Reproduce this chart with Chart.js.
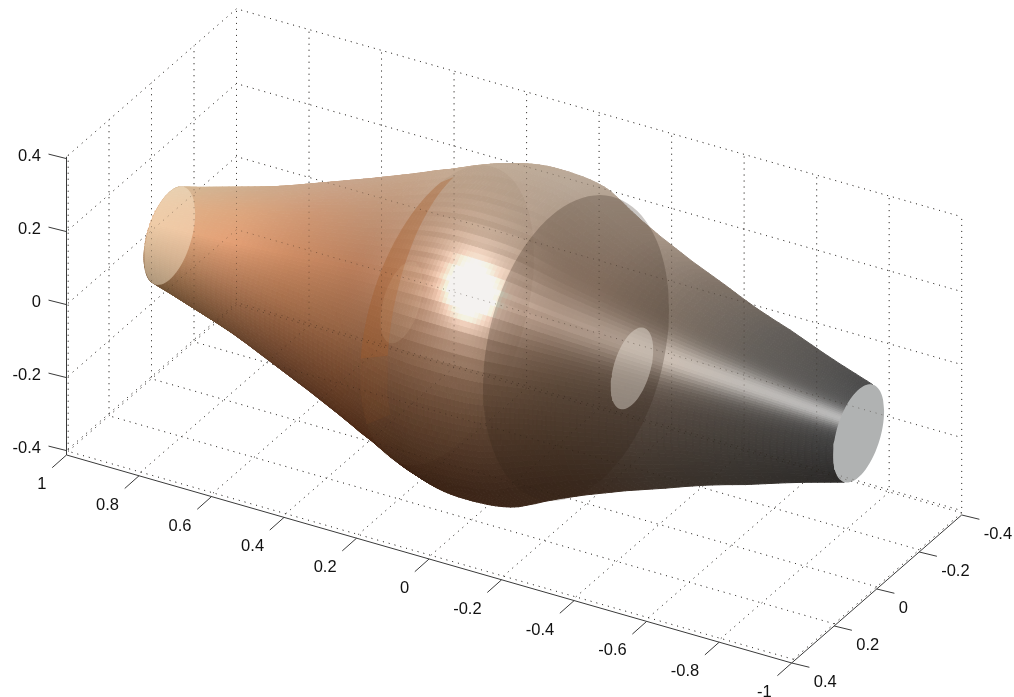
<!DOCTYPE html>
<html><head><meta charset="utf-8">
<style>html,body{margin:0;padding:0;background:#fff}canvas{display:block}</style>
<script src="https://cdn.jsdelivr.net/npm/chart.js@4"></script>
</head><body><canvas id="c" width="1014" height="697"></canvas>
<script>
// ---- values ----
const xTicks=[1,0.8,0.6,0.4,0.2,0,-0.2,-0.4,-0.6,-0.8,-1];
const yTicks=[-0.4,-0.2,0,0.2,0.4];
const zTicks=[-0.4,-0.2,0,0.2,0.4];
const xLabels=['1','0.8','0.6','0.4','0.2','0','-0.2','-0.4','-0.6','-0.8','-1'];
const yLabels=['-0.4','-0.2','0','0.2','0.4'];
const zLabels=['-0.4','-0.2','0','0.2','0.4'];
const stationX=[.95,.9,.85,.8,.75,.7,.65,.6,.55,.5,.45,.4,.35,.3,.28,.26,.24,.22,.2,.18,.16,.14,.12,.1,.08,.06,.04,.02,0,-.02,-.04,-.06,-.08,-.1,-.12,-.14,-.16,-.18,-.2,-.22,-.24,-.26,-.28,-.3,-.35,-.4,-.45,-.5,-.55,-.6,-.65,-.7,-.75,-.8,-.85,-.9,-.95];
const stationR=[.12,.132,.145,.158,.171,.185,.201,.218,.235,.252,.269,.287,.305,.324,.332,.339,.346,.354,.362,.37,.377,.384,.39,.395,.399,.402,.404,.405,.405,.405,.404,.403,.401,.398,.394,.388,.379,.37,.36,.351,.342,.334,.326,.318,.3,.282,.266,.25,.233,.217,.203,.19,.175,.16,.146,.133,.12];
const innerDiscX=[.31,-.325];
const innerDiscR=[.1,.1];
const capX=[.95,-.95];
const capR=[.12,.12];
// section outlines seen through the shell: [x0, xTilt, yRadius, zCentre, zRadius]
const sectionLeft=[.185,.0375,.345,0,.377];
const sectionLeftInner=[.152,.018,.307,0,.40];
const sectionRight=[-.1707,.1,.267,.012,.405];
// ---- surface tones along the body ----
const toneX=[.95,.7,.5,.3,.1,-.1,-.3,-.5,-.7,-.95];
const toneV=[.95,.55,.15,-.3,-.95];
const tones=[
 [[215,185,150],[205,170,140],[200,165,140],[195,165,140],[190,170,150],[185,168,152],[168,150,135],[128,115,104],[100,95,90],[75,75,75]],
 [[225,180,140],[220,165,125],[205,150,115],[190,145,115],[175,140,115],[165,140,120],[155,132,115],[124,110,98],[100,95,90],[85,85,85]],
 [[228,178,135],[228,160,118],[205,140,100],[185,125,90],[175,125,95],[168,130,106],[150,125,108],[124,110,98],[105,100,95],[90,90,90]],
 [[190,145,105],[180,125,90],[165,110,75],[150,100,68],[130,90,65],[122,90,68],[102,82,66],[88,75,66],[76,70,65],[65,65,65]],
 [[115,85,55],[105,70,45],[90,55,35],[80,45,25],[60,35,20],[60,38,25],[60,42,30],[60,50,42],[55,50,45],[45,43,42]]
];
const stripeX=[.1,-.2,-.4,-.95];
const stripeA=[0,55,78,95];
const facetShade=[5,-2,3,-5];
// ---- projection of the axes box ----
const zMin=-.412,zMax=.405,yBack=-.4,yFront=.4,xNear=-1,xFar=1,gridFront=.392,gridFloor=-.406;
function project(x,y,z){return {x:514.1-362.6*x-212.5*y,y:334.6-104*x+185*y-365*z};}
function ringPoint(x,r,phi){const c=Math.cos(phi),s=Math.sin(phi);
 return project(x,r*(c*.8295-s*.559),r*(c*.559+s*.8295));}
function fullRing(x,r,n=72){const p=[];for(let i=0;i<=n;i++)p.push(ringPoint(x,r,-Math.PI+2*Math.PI*i/n));return p;}
function sectionArc(s,a0,a1,n=48){const p=[];for(let i=0;i<=n;i++){const t=a0+(a1-a0)*i/n;
 p.push(project(s[0]+s[1]*Math.cos(t),s[2]*Math.cos(t),s[3]+s[4]*Math.sin(t)));}return p;}
function lerpTable(xs,ys,x){if(x>=xs[0])return ys[0];for(let i=1;i<xs.length;i++){if(x>=xs[i]){const t=(xs[i-1]-x)/(xs[i-1]-xs[i]);return ys[i-1]+(ys[i]-ys[i-1])*t;}}return ys[ys.length-1];}
function tone(x,v){const atV=k=>[0,1,2].map(c=>lerpTable(toneX,tones[k].map(t=>t[c]),x));
 let k=0;while(k<toneV.length-2&&v<toneV[k+1])k++;
 let t=(toneV[k]-v)/(toneV[k]-toneV[k+1]);t=Math.max(0,Math.min(1,t));
 const a=atV(k),b=atV(k+1);return a.map((q,i)=>q+(b[i]-q)*t);}
const BANDS=60;
const datasets=[];
function poly(points,fill,stroke,width){datasets.push({data:points,showLine:true,fill:fill?'shape':false,backgroundColor:fill||'transparent',borderColor:stroke||'transparent',borderWidth:width||0,pointRadius:0,tension:0,clip:false});}
function line(points,color,width,dash){datasets.push({data:points,showLine:true,fill:false,borderColor:color,borderWidth:width,borderDash:dash||[],pointRadius:0,tension:0,clip:false});}
function gridLines(color){const dash=[1,5];
 zTicks.forEach(z=>{const zz=z===.4?zMax:z;line([project(xFar,gridFront,zz),project(xFar,yBack,zz),project(xNear,yBack,zz)],color,1,dash);});
 xTicks.forEach(x=>{line([project(x,gridFront,gridFloor),project(x,yBack,gridFloor),project(x,yBack,zMax)],color,1,dash);});
 yTicks.forEach(y=>{const yy=y===.4?gridFront:y;const path=[project(xNear,yy,gridFloor),project(xFar,yy,gridFloor)];if(y!==yBack)path.push(project(xFar,yy,zMax));line(path,color,1,dash);});
}
gridLines('rgba(30,30,30,.8)');
// front half of the body, far end first
for(let i=0;i<stationX.length-1;i++){
 const sub=Math.abs(stationX[i]-stationX[i+1])>.03?3:2;
 for(let q=0;q<sub;q++){
  const f0=q/sub,f1=(q+1)/sub;
  const x0=stationX[i]+(stationX[i+1]-stationX[i])*f0,x1=stationX[i]+(stationX[i+1]-stationX[i])*f1;
  const r0=stationR[i]+(stationR[i+1]-stationR[i])*f0,r1=stationR[i]+(stationR[i+1]-stationR[i])*f1;
  for(let j=0;j<BANDS;j++){
   const v0=-1+2*j/BANDS,v1=-1+2*(j+1)/BANDS;
   const p0=Math.asin(v0),p1=Math.asin(v1);
   const pts=[ringPoint(x0,r0,p0),ringPoint(x1,r1,p0),ringPoint(x1,r1,p1),ringPoint(x0,r0,p1)];
   pts.push(pts[0]);
   const xm=(x0+x1)/2,v=(v0+v1)/2;
   const sc=ringPoint(xm,(r0+r1)/2,Math.asin(v));
   let c=tone(xm,v);
   const stripe=lerpTable(stripeX,stripeA,xm)*Math.exp(-Math.pow((v-.2)/.19,2));
   const d=Math.hypot(sc.x-470,(sc.y-290)*.78);
   const glow=150*Math.exp(-Math.pow(d/22,2))+75*Math.exp(-Math.pow(d/55,2));
   const facet=facetShade[j%4]*Math.min(1.6,glow/22+(xm>-.35?stripe/90:0));
   c=[c[0]+stripe+glow+facet,c[1]+stripe+glow*1.05+facet,c[2]+stripe+glow*1.1+facet].map(u=>Math.round(Math.min(255,u)));
   const col=`rgb(${c[0]},${c[1]},${c[2]})`;
   poly(pts,col,col,1);
  }
 }
}
// cross sections seen through the shell
poly(sectionArc(sectionLeft,-Math.PI,Math.PI,96),'rgba(120,85,60,.08)');
function band(a0,a1,b0,b1,col){const o=sectionArc(sectionLeft,a0,a1,24),n=sectionArc(sectionLeftInner,b0,b1,24).reverse();poly(o.concat(n,[o[0]]),col);}
band(.12,1.5,.12,1.5,'rgba(170,90,35,.33)');
band(-.4,.12,-.3,.12,'rgba(170,90,35,.09)');
poly(sectionArc(sectionRight,-Math.PI,Math.PI,96),'rgba(50,35,25,.26)');
poly(fullRing(innerDiscX[0],innerDiscR[0]),'rgba(240,205,175,.11)');
poly(fullRing(innerDiscX[1],innerDiscR[1]),'rgba(238,230,222,.42)');
poly(fullRing(capX[0],capR[0]),'rgba(255,240,215,.42)');
poly(fullRing(capX[1],capR[1]),'rgb(176,178,178)');
gridLines('rgba(30,20,10,.4)');
// axes
const axisCol='#3a3a3a';
line([project(xFar,yFront,zMin),project(xFar,yFront,zMax)],axisCol,1);
line([project(xFar,yFront,zMin),project(xNear,yFront,zMin)],axisCol,1);
line([project(xNear,yFront,zMin),project(xNear,yBack,zMin)],axisCol,1);
const textItems=[];
xTicks.forEach((x,i)=>{const p=project(x,yFront,zMin);line([p,{x:p.x-14.3,y:p.y+12.7}],axisCol,1);textItems.push({s:xLabels[i],x:p.x-20,y:p.y+29.5,a:'right'});});
yTicks.forEach((y,i)=>{const p=project(xNear,y,zMin);line([p,{x:p.x+17.7,y:p.y+4.3}],axisCol,1);textItems.push({s:yLabels[i],x:p.x+22,y:p.y+19.5,a:'left'});});
zTicks.forEach((z,i)=>{const p=project(xFar,yFront,z);line([p,{x:p.x-18,y:p.y-4.5}],axisCol,1);textItems.push({s:zLabels[i],x:41,y:p.y-2.5,a:'right'});});
const labelPlugin={id:'tickText',afterDraw(ch){const g=ch.ctx,sx=ch.scales.x,sy=ch.scales.y;g.save();g.font='16.5px "Liberation Sans"';g.fillStyle='#111';g.textBaseline='middle';
 textItems.forEach(t=>{g.textAlign=t.a;g.fillText(t.s,sx.getPixelForValue(t.x),sy.getPixelForValue(t.y));});g.restore();}};
new Chart(document.getElementById('c'),{type:'scatter',data:{datasets:datasets.reverse()},plugins:[labelPlugin],
 options:{responsive:false,animation:false,events:[],layout:{padding:0},
  plugins:{legend:{display:false},tooltip:{enabled:false},title:{display:false}},
  scales:{x:{type:'linear',min:0,max:1014,display:false},y:{type:'linear',min:0,max:697,reverse:true,display:false}}}});
</script></body></html>
